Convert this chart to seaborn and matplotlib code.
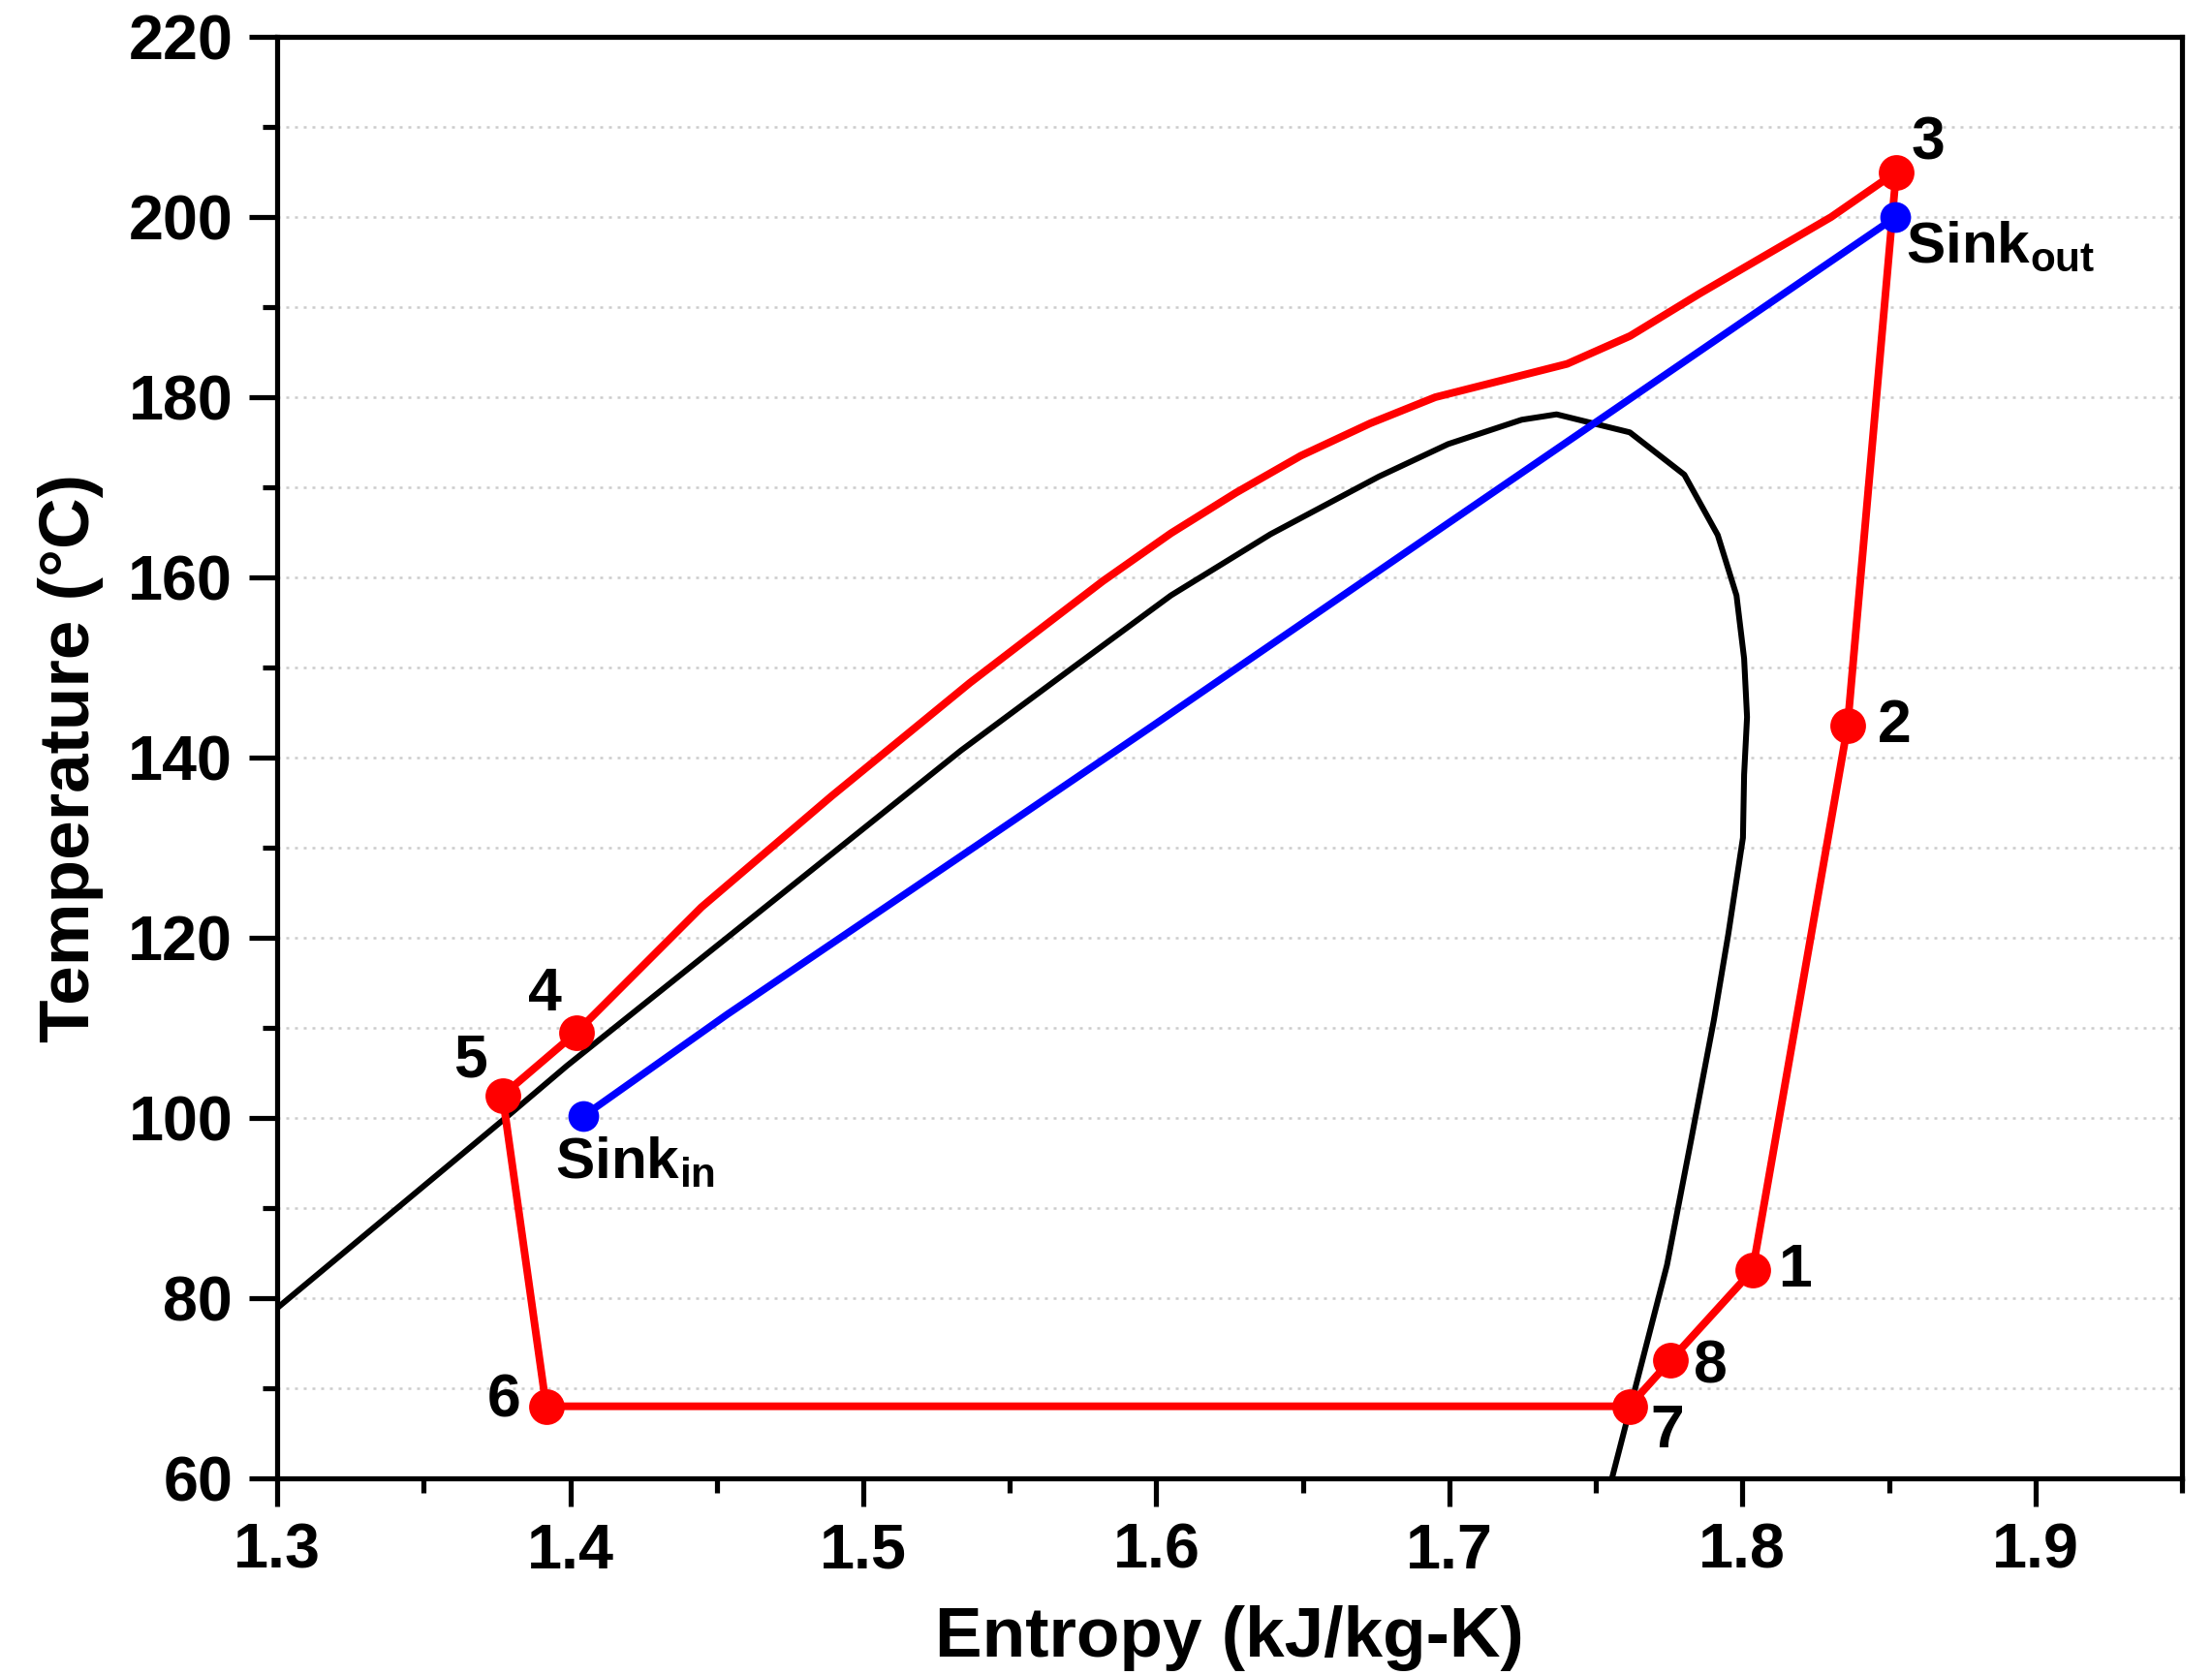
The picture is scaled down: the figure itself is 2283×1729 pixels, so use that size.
import matplotlib
matplotlib.use("Agg")
import matplotlib.pyplot as plt
from matplotlib.ticker import MultipleLocator
import pandas as pd
import seaborn as sns

# State points of the heat-pump cycle (entropy kJ/kg-K, temperature °C)
state_labels = ["1", "2", "3", "4", "5", "6", "7", "8"]
state_s = [1.8035, 1.8359, 1.8525, 1.4021, 1.3769, 1.3918, 1.7614, 1.7755]
state_T = [83.1, 143.5, 205.0, 109.5, 102.5, 68.0, 68.0, 73.1]

# Condensation/gas-cooling path between state 3 and state 4
cond_s = [1.8303, 1.7854, 1.7617, 1.7402, 1.6952, 1.6730, 1.6493, 1.6272,
          1.6050, 1.5818, 1.5364, 1.4891, 1.4448]
cond_T = [200.0, 191.5, 186.8, 183.7, 180.0, 177.1, 173.5, 169.4,
          164.9, 159.6, 148.3, 135.7, 123.4]

# Heat-sink stream
sink_s = [1.4045, 1.4536, 1.5394, 1.5991, 1.6982, 1.8523]
sink_T = [100.2, 111.5, 130.4, 143.6, 165.7, 200.0]
sink_labels = ["in", "out"]

# Saturation dome of the working fluid
dome_s = [1.3000, 1.3768, 1.3989, 1.4950, 1.5334, 1.5695, 1.6050, 1.6390,
          1.6760, 1.6996, 1.7247, 1.7366, 1.7616, 1.7802, 1.7916, 1.7980,
          1.8006, 1.8016, 1.8006, 1.8002, 1.7952, 1.7903, 1.7826, 1.7743,
          1.7555]
dome_T = [78.9, 99.7, 105.8, 130.8, 140.8, 149.5, 158.0, 164.8,
          171.2, 174.8, 177.5, 178.1, 176.1, 171.4, 164.7, 158.0,
          151.0, 144.5, 138.1, 131.1, 120.4, 110.9, 97.7, 83.7,
          60.0]

sns.set_theme(style="white")
plt.rcParams["font.family"] = ["Liberation Sans", "DejaVu Sans"]
plt.rcParams["font.weight"] = "bold"
plt.rcParams["text.color"] = "black"
plt.rcParams["axes.labelcolor"] = "black"
plt.rcParams["xtick.color"] = "black"
plt.rcParams["ytick.color"] = "black"
plt.rcParams["mathtext.fontset"] = "custom"
plt.rcParams["mathtext.rm"] = "Liberation Sans:bold"
plt.rcParams["mathtext.bf"] = "Liberation Sans:bold"
plt.rcParams["mathtext.it"] = "Liberation Sans:bold"

# Closed cycle path: 1 -> 2 -> 3 -> condenser -> 4 -> 5 -> 6 -> 7 -> 8 -> 1
cyc_s = state_s[0:3] + cond_s + state_s[3:8] + [state_s[0]]
cyc_T = state_T[0:3] + cond_T + state_T[3:8] + [state_T[0]]
cycle = pd.DataFrame({"s": cyc_s, "T": cyc_T})
dome = pd.DataFrame({"s": dome_s, "T": dome_T})
sink = pd.DataFrame({"s": sink_s, "T": sink_T})
states = pd.DataFrame({"s": state_s, "T": state_T, "label": state_labels})
sink_ends = pd.DataFrame({"s": [sink_s[0], sink_s[-1]], "T": [sink_T[0], sink_T[-1]]})

fig = plt.figure(figsize=(2283 / 300, 1729 / 300), dpi=300)
ax = fig.add_axes([0.1253, 0.1174, 0.8611, 0.8606])

sns.lineplot(data=dome, x="s", y="T", sort=False, estimator=None, color="black",
             lw=1.45, ax=ax, zorder=2)
sns.lineplot(data=sink, x="s", y="T", sort=False, estimator=None, color="#0000ff",
             lw=1.8, ax=ax, zorder=3)
sns.lineplot(data=cycle, x="s", y="T", sort=False, estimator=None, color="#ff0000",
             lw=1.9, ax=ax, zorder=4)
sns.scatterplot(data=sink_ends, x="s", y="T", color="#0000ff", s=58, linewidth=0,
                ax=ax, zorder=5)
sns.scatterplot(data=states, x="s", y="T", color="#ff0000", s=78, linewidth=0,
                ax=ax, zorder=6)

# State labels, offset from each marker in points
offsets = {"1": (10.5, 0), "2": (11.5, 0), "3": (8, 7), "4": (-7.7, 9.4),
           "5": (-8, 8.7), "6": (-10.5, 1.4), "7": (9.4, -6.3), "8": (10, -1.7)}
for lab, s, T in zip(state_labels, state_s, state_T):
    ax.annotate(lab, (s, T), xytext=offsets[lab], textcoords="offset points",
                ha="center", va="center", fontsize=15, fontweight="bold", zorder=7)

ax.annotate(r"Sink$_{\mathrm{" + sink_labels[0] + "}}$", (sink_s[0], sink_T[0]),
            xytext=(-7, -11.5), textcoords="offset points", ha="left", va="center",
            fontsize=14.5, fontweight="bold")
ax.annotate(r"Sink$_{\mathrm{" + sink_labels[1] + "}}$", (sink_s[-1], sink_T[-1]),
            xytext=(2.5, -7.5), textcoords="offset points", ha="left", va="center",
            fontsize=14.5, fontweight="bold")

ax.set_xlim(1.3, 1.95)
ax.set_ylim(60, 220)
ax.xaxis.set_major_locator(MultipleLocator(0.1))
ax.xaxis.set_minor_locator(MultipleLocator(0.05))
ax.yaxis.set_major_locator(MultipleLocator(20))
ax.yaxis.set_minor_locator(MultipleLocator(10))
ax.set_xticks([1.3, 1.4, 1.5, 1.6, 1.7, 1.8, 1.9])
ax.set_xticklabels(["1.3", "1.4", "1.5", "1.6", "1.7", "1.8", "1.9"])

ax.grid(False)
ax.yaxis.grid(True, which="both", linestyle=(0, (1.2, 2.4)), linewidth=0.6,
              color="#cccccc", zorder=0)
ax.set_axisbelow(True)

for sp in ax.spines.values():
    sp.set_visible(True)
    sp.set_color("black")
    sp.set_linewidth(1.25)

ax.tick_params(which="major", direction="out", length=7, width=1.25, color="black",
               labelsize=15.5, pad=4, bottom=True, left=True, top=False, right=False)
ax.tick_params(which="minor", direction="out", length=3.6, width=1.25, color="black",
               bottom=True, left=True, top=False, right=False)
for lbl in ax.get_xticklabels() + ax.get_yticklabels():
    lbl.set_fontweight("bold")

ax.set_xlabel("Entropy (kJ/kg-K)", fontsize=17.5, fontweight="bold", labelpad=6)
ax.set_ylabel("Temperature (°C)", fontsize=17.5, fontweight="bold", labelpad=6)

fig.savefig("out.png", dpi=300, facecolor="white")
